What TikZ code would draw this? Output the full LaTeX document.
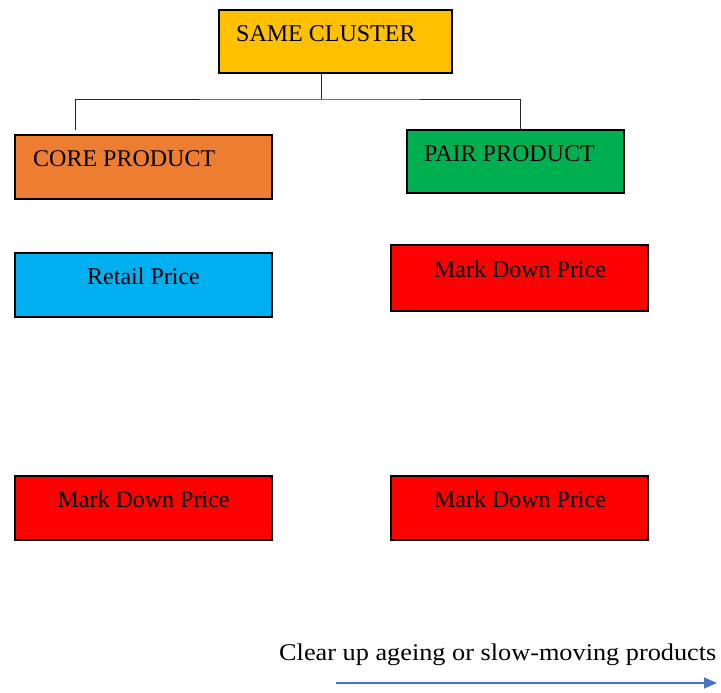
\documentclass[tikz,border=0pt]{standalone}
\usepackage{fontspec}
\usepackage{graphicx}
\setmainfont{Liberation Serif}
\usetikzlibrary{arrows.meta}
\definecolor{cyellow}{HTML}{FFC000}
\definecolor{corange}{HTML}{ED7D31}
\definecolor{cgreen}{HTML}{00B050}
\definecolor{ccyan}{HTML}{00B0F0}
\definecolor{cred}{HTML}{FF0000}
\definecolor{cblue}{HTML}{4472C4}
\begin{document}
\begin{tikzpicture}[x=1pt,y=-1pt,
  box/.style={draw=black,line width=1.6pt,rectangle,inner sep=0pt,outer sep=0pt},
  lbl/.style={anchor=base,inner sep=0pt,font=\fontsize{24}{28}\selectfont},
  lblw/.style={anchor=base west,inner sep=0pt,font=\fontsize{24}{28}\selectfont},
  conn/.style={draw=black!85,line width=0.8pt},
  flow/.style={draw=cblue,line width=1.1pt,-{Triangle[length=13pt,width=11pt]}}]
\useasboundingbox (0,0) rectangle (721,693);
% boxes
\node[box,fill=cyellow,minimum width=233pt,minimum height=63pt] (cluster) at (335.5,41.5) {};
\node[box,fill=corange,minimum width=257pt,minimum height=64pt] (core) at (143.5,167) {};
\node[box,fill=cgreen,minimum width=217pt,minimum height=63pt] (pair) at (515.5,161.5) {};
\node[box,fill=ccyan,minimum width=257pt,minimum height=64pt] (retail) at (143.5,285) {};
\node[box,fill=cred,minimum width=257pt,minimum height=66pt] (mdr1) at (519.5,278) {};
\node[box,fill=cred,minimum width=257pt,minimum height=64pt] (mdl2) at (143.5,508) {};
\node[box,fill=cred,minimum width=257pt,minimum height=64pt] (mdr2) at (519.5,508) {};
% texts
\node[lblw] (tcluster) at (236,42) {SAME CLUSTER};
\node[lblw] (tcore) at (33,166) {CORE PRODUCT};
\node[lblw] (tpair) at (424,161) {PAIR PRODUCT};
\node[lbl] (tretail) at (143.5,284) {Retail Price};
\node[lbl] (tmdr1) at (520,277) {Mark Down Price};
\node[lbl] (tmdl2) at (143.5,507) {Mark Down Price};
\node[lbl] (tmdr2) at (520,507) {Mark Down Price};
% connectors
\coordinate (j) at (321,99);
\coordinate (lend) at (75,130);
\draw[conn] (cluster.south -| j) -- (j);
\draw[conn] (lend) |- (j) -| (pair.north -| 520,0);
% bottom arrow
\node[lblw] (tclear) at (279,660) {\scalebox{1.095}[1]{Clear up ageing or slow-moving products}};
\coordinate (as) at (336,683);
\coordinate (ae) at (717,683);
\draw[flow] (as) -- (ae);
\end{tikzpicture}
\end{document}
